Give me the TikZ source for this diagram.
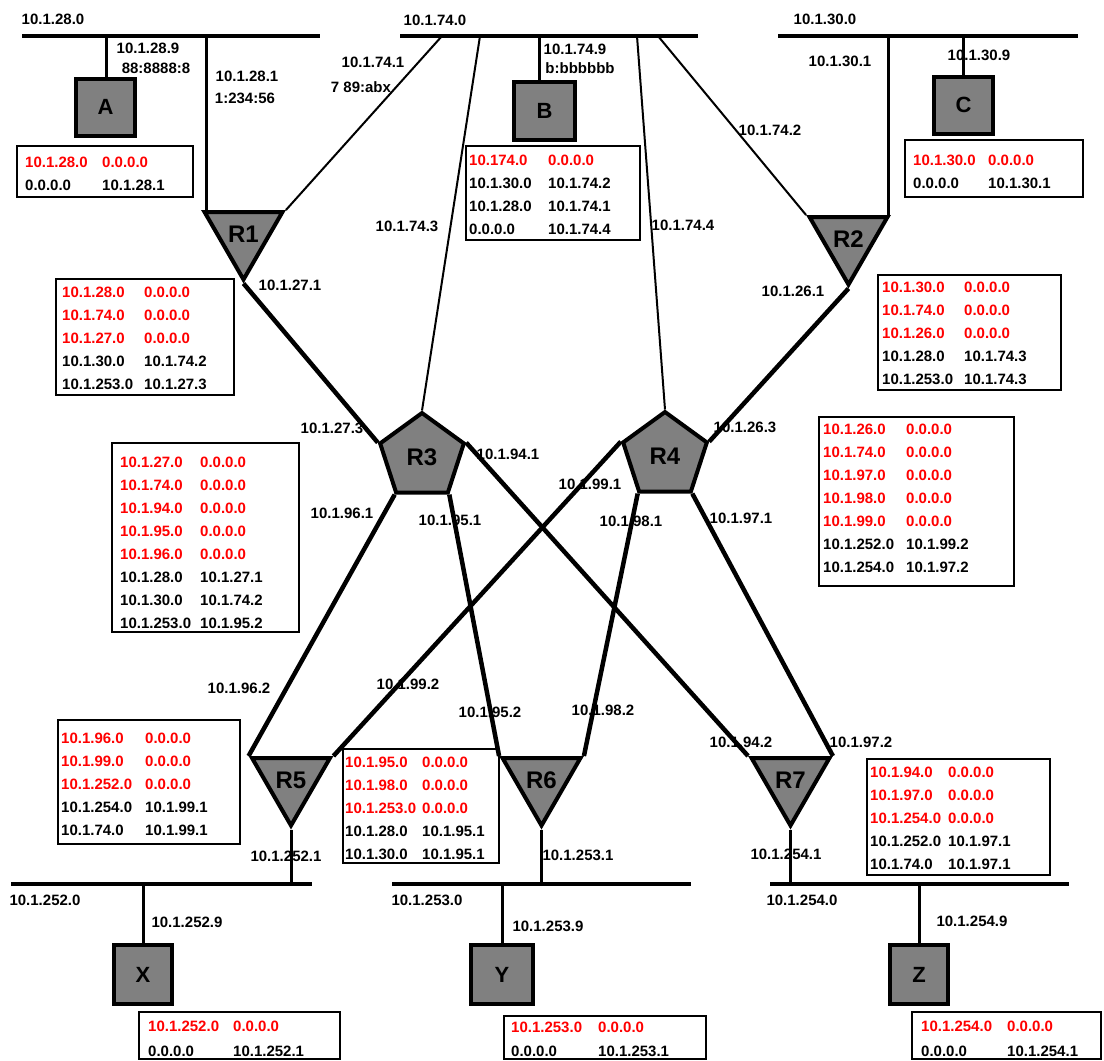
\documentclass[tikz,border=0pt]{standalone}
\usepackage{fontspec}
\setmainfont{Liberation Sans}
\usetikzlibrary{shapes.geometric,calc,fit}
\definecolor{boxgray}{RGB}{128,128,128}
\definecolor{rtred}{RGB}{255,0,0}

% one routing-table row printed in red (directly connected networks)
\newcommand\rr[2]{\textcolor{rtred}{#1} & \textcolor{rtred}{#2}}
% routing table: name, corner, opposite corner, first-row anchor, column width, rows
\newcommand\rtab[6]{%
  \node[rttable, fit={(#2) (#3)}] (#1) {};
  \node[rtcells, anchor=north west] (#1-rows) at ($(#4)+(0,-11)$)
    {\begin{tabular}{@{}p{#5}@{}l@{}}#6\end{tabular}};}

\begin{document}
\begin{tikzpicture}[x=1pt,y=-1pt,
  rtlbl/.style={font=\fontsize{15}{16}\selectfont\bfseries, inner sep=0pt},
  rtcells/.style={font=\fontsize{15}{23}\selectfont\bfseries, inner sep=0pt},
  rttable/.style={draw, line width=2.6pt, inner sep=0pt, outer sep=0pt},
  rthost/.style={draw, line width=4pt, fill=boxgray, minimum width=59pt,
    minimum height=57pt, inner sep=0pt, font=\fontsize{22}{22}\selectfont\bfseries},
  rttri/.style={regular polygon, regular polygon sides=3, shape border rotate=180,
    draw, line width=4pt, fill=boxgray, minimum size=90pt, inner sep=0pt,
    font=\fontsize{24}{24}\selectfont\bfseries},
  rtpenta/.style={regular polygon, regular polygon sides=5, draw, line width=4pt,
    fill=boxgray, minimum size=88pt, inner sep=0pt,
    font=\fontsize{24}{24}\selectfont\bfseries},
  rtbus/.style={line width=4pt},
  rtdrop/.style={line width=3pt},
  rtthin/.style={line width=2pt},
  rtlink/.style={line width=4.5pt},
]
\fill[white] (0,0) rectangle (1104,1061);
\useasboundingbox (0,0) rectangle (1104,1061);

% ---- LAN segments ----
\coordinate (n28w) at (22,36);   \coordinate (n28e) at (320,36);
\coordinate (n74w) at (400,36);  \coordinate (n74e) at (698,36);
\coordinate (n30w) at (778,36);  \coordinate (n30e) at (1078,36);
\coordinate (n252w) at (11,884); \coordinate (n252e) at (312,884);
\coordinate (n253w) at (392,884);\coordinate (n253e) at (691,884);
\coordinate (n254w) at (770,884);\coordinate (n254e) at (1069,884);
\draw[rtbus] (n28w) -- (n28e);
\draw[rtbus] (n74w) -- (n74e);
\draw[rtbus] (n30w) -- (n30e);
\draw[rtbus] (n252w) -- (n252e);
\draw[rtbus] (n253w) -- (n253e);
\draw[rtbus] (n254w) -- (n254e);

% attachment points on the segments
\coordinate (n28a) at (106,36);
\coordinate (n28r) at (206,36);
\coordinate (n74a) at (442,36);
\coordinate (n74b) at (539,36);
\coordinate (n74c) at (480,36);
\coordinate (n74d) at (637,36);
\coordinate (n74e2) at (658,36);
\coordinate (n30r) at (888,36);

% ---- hosts ----
\node[rthost] (A) at (105.5,107) {A};
\node[rthost, minimum width=61pt, minimum height=58pt] (B) at (544.5,111) {B};
\node[rthost] (C) at (963.5,105) {C};
\node[rthost, minimum width=58pt, minimum height=59pt] (X) at (143,974.5) {X};
\node[rthost, minimum width=62pt, minimum height=59pt] (Y) at (502,974.5) {Y};
\node[rthost, minimum width=58pt, minimum height=59pt] (Z) at (919,974.5) {Z};

% ---- routers ----
\node[rttri] (R1) at (243.5,234.5) {R1};
\node[rttri] (R2) at (848.5,239.5) {R2};
\node[rtpenta] (R3) at (422,457) {R3};
\node[rtpenta] (R4) at (665,456) {R4};
\node[rttri] (R5) at (291,780.5) {R5};
\node[rttri] (R6) at (541.5,780.5) {R6};
\node[rttri] (R7) at (790.5,780.5) {R7};

% ---- host drops ----
\draw[rtdrop] (n28a) -- (n28a |- A.north);
\draw[rtdrop] (n74b) -- (n74b |- B.north);
\draw[rtdrop] (C.north) -- (C.north |- n30w);
\draw[rtdrop] (X.north) -- (X.north |- n252w);
\draw[rtdrop] (Y.north) -- (Y.north |- n253w);
\draw[rtdrop] (Z.north) -- (Z.north |- n254w);

% ---- router attachments to segments ----
\draw[rtdrop] (n28r) -- (n28r |- R1.corner 3);
\draw[rtdrop] (n30r) -- (n30r |- R2.corner 2);
\draw[rtthin] (R1.corner 2) -- (n74a);
\draw[rtthin] (R3.corner 1) -- (n74c);
\draw[rtthin] (R4.corner 1) -- (n74d);
\draw[rtthin] (R2.corner 3) -- (n74e2);
\draw[rtdrop] (R5.corner 1) -- (R5.corner 1 |- n252w);
\draw[rtdrop] (R6.corner 1) -- (R6.corner 1 |- n253w);
\draw[rtdrop] (R7.corner 1) -- (R7.corner 1 |- n254w);

% ---- point-to-point links ----
\draw[rtlink] (R1.corner 1) -- (R3.corner 2);
\draw[rtlink] (R2.corner 1) -- (R4.corner 5);
\draw[rtlink] (R3.corner 3) -- (R5.corner 3);
\draw[rtlink] (R3.corner 4) -- (R6.corner 3);
\draw[rtlink] (R3.corner 5) -- (R7.corner 3);
\draw[rtlink] (R4.corner 2) -- (R5.corner 2);
\draw[rtlink] (R4.corner 3) -- (R6.corner 2);
\draw[rtlink] (R4.corner 4) -- (R7.corner 2);

% ---- address labels ----
\foreach \x/\y/\t in {
  53/19/10.1.28.0, 148/48/10.1.28.9, 156/68/88:8888:8,
  247/76/10.1.28.1, 245/98/1:234:56,
  373/62/10.1.74.1, 361/87/7 89:abx,
  435/20/10.1.74.0, 575/49/10.1.74.9, 580/68/b:bbbbbb,
  825/19/10.1.30.0, 840/61/10.1.30.1, 979/55/10.1.30.9,
  770/130/10.1.74.2, 407/226/10.1.74.3, 683/225/10.1.74.4,
  290/285/10.1.27.1, 793/291/10.1.26.1,
  332/428/10.1.27.3, 508/454/10.1.94.1, 745/427/10.1.26.3,
  342/513/10.1.96.1, 450/520/10.1.95.1, 590/484/10.1.99.1,
  631/521/10.1.98.1, 741/518/10.1.97.1,
  239/688/10.1.96.2, 408/684/10.1.99.2, 490/712/10.1.95.2,
  603/710/10.1.98.2, 741/742/10.1.94.2, 861/742/10.1.97.2,
  286/856/10.1.252.1, 578/855/10.1.253.1, 786/854/10.1.254.1,
  45/900/10.1.252.0, 427/900/10.1.253.0, 802/900/10.1.254.0,
  187/922/10.1.252.9, 548/926/10.1.253.9, 972/921/10.1.254.9}
  \node[rtlbl] (lab-\x-\y) at (\x,\y) {\t};

% ---- routing tables ----
\rtab{tA}{17,146}{193,197}{25,162}{77pt}{%
  \rr{10.1.28.0}{0.0.0.0}\\ 0.0.0.0 & 10.1.28.1}
\rtab{tB}{466,146}{640,240}{469,160}{79pt}{%
  \rr{10.174.0}{0.0.0.0}\\ 10.1.30.0 & 10.1.74.2\\
  10.1.28.0 & 10.1.74.1\\ 0.0.0.0 & 10.1.74.4}
\rtab{tC}{905,140}{1083,197}{913,160}{75pt}{%
  \rr{10.1.30.0}{0.0.0.0}\\ 0.0.0.0 & 10.1.30.1}
\rtab{tR1}{56,279}{234,395}{62,292}{82pt}{%
  \rr{10.1.28.0}{0.0.0.0}\\ \rr{10.1.74.0}{0.0.0.0}\\ \rr{10.1.27.0}{0.0.0.0}\\
  10.1.30.0 & 10.1.74.2\\ 10.1.253.0 & 10.1.27.3}
\rtab{tR2}{878,275}{1061,390}{882,287}{82pt}{%
  \rr{10.1.30.0}{0.0.0.0}\\ \rr{10.1.74.0}{0.0.0.0}\\ \rr{10.1.26.0}{0.0.0.0}\\
  10.1.28.0 & 10.1.74.3\\ 10.1.253.0 & 10.1.74.3}
\rtab{tR3}{112,443}{299,632}{120,462}{80pt}{%
  \rr{10.1.27.0}{0.0.0.0}\\ \rr{10.1.74.0}{0.0.0.0}\\ \rr{10.1.94.0}{0.0.0.0}\\
  \rr{10.1.95.0}{0.0.0.0}\\ \rr{10.1.96.0}{0.0.0.0}\\
  10.1.28.0 & 10.1.27.1\\ 10.1.30.0 & 10.1.74.2\\ 10.1.253.0 & 10.1.95.2}
\rtab{tR4}{819,417}{1014,586}{823,429}{83pt}{%
  \rr{10.1.26.0}{0.0.0.0}\\ \rr{10.1.74.0}{0.0.0.0}\\ \rr{10.1.97.0}{0.0.0.0}\\
  \rr{10.1.98.0}{0.0.0.0}\\ \rr{10.1.99.0}{0.0.0.0}\\
  10.1.252.0 & 10.1.99.2\\ 10.1.254.0 & 10.1.97.2}
\rtab{tR5}{58,720}{240,844}{61,738}{84pt}{%
  \rr{10.1.96.0}{0.0.0.0}\\ \rr{10.1.99.0}{0.0.0.0}\\ \rr{10.1.252.0}{0.0.0.0}\\
  10.1.254.0 & 10.1.99.1\\ 10.1.74.0 & 10.1.99.1}
\rtab{tR6}{343,749}{499,863}{345,762}{77pt}{%
  \rr{10.1.95.0}{0.0.0.0}\\ \rr{10.1.98.0}{0.0.0.0}\\ \rr{10.1.253.0}{0.0.0.0}\\
  10.1.28.0 & 10.1.95.1\\ 10.1.30.0 & 10.1.95.1}
\rtab{tR7}{867,759}{1050,875}{870,772}{78pt}{%
  \rr{10.1.94.0}{0.0.0.0}\\ \rr{10.1.97.0}{0.0.0.0}\\ \rr{10.1.254.0}{0.0.0.0}\\
  10.1.252.0 & 10.1.97.1\\ 10.1.74.0 & 10.1.97.1}
\rtab{tX}{139,1012}{340,1059}{148,1026}{85pt}{%
  \rr{10.1.252.0}{0.0.0.0}\\[2pt] 0.0.0.0 & 10.1.252.1}
\rtab{tY}{504,1016}{706,1059}{511,1027}{87pt}{%
  \rr{10.1.253.0}{0.0.0.0}\\[1pt] 0.0.0.0 & 10.1.253.1}
\rtab{tZ}{912,1012}{1101,1059}{921,1026}{86pt}{%
  \rr{10.1.254.0}{0.0.0.0}\\[2pt] 0.0.0.0 & 10.1.254.1}
\end{tikzpicture}
\end{document}
